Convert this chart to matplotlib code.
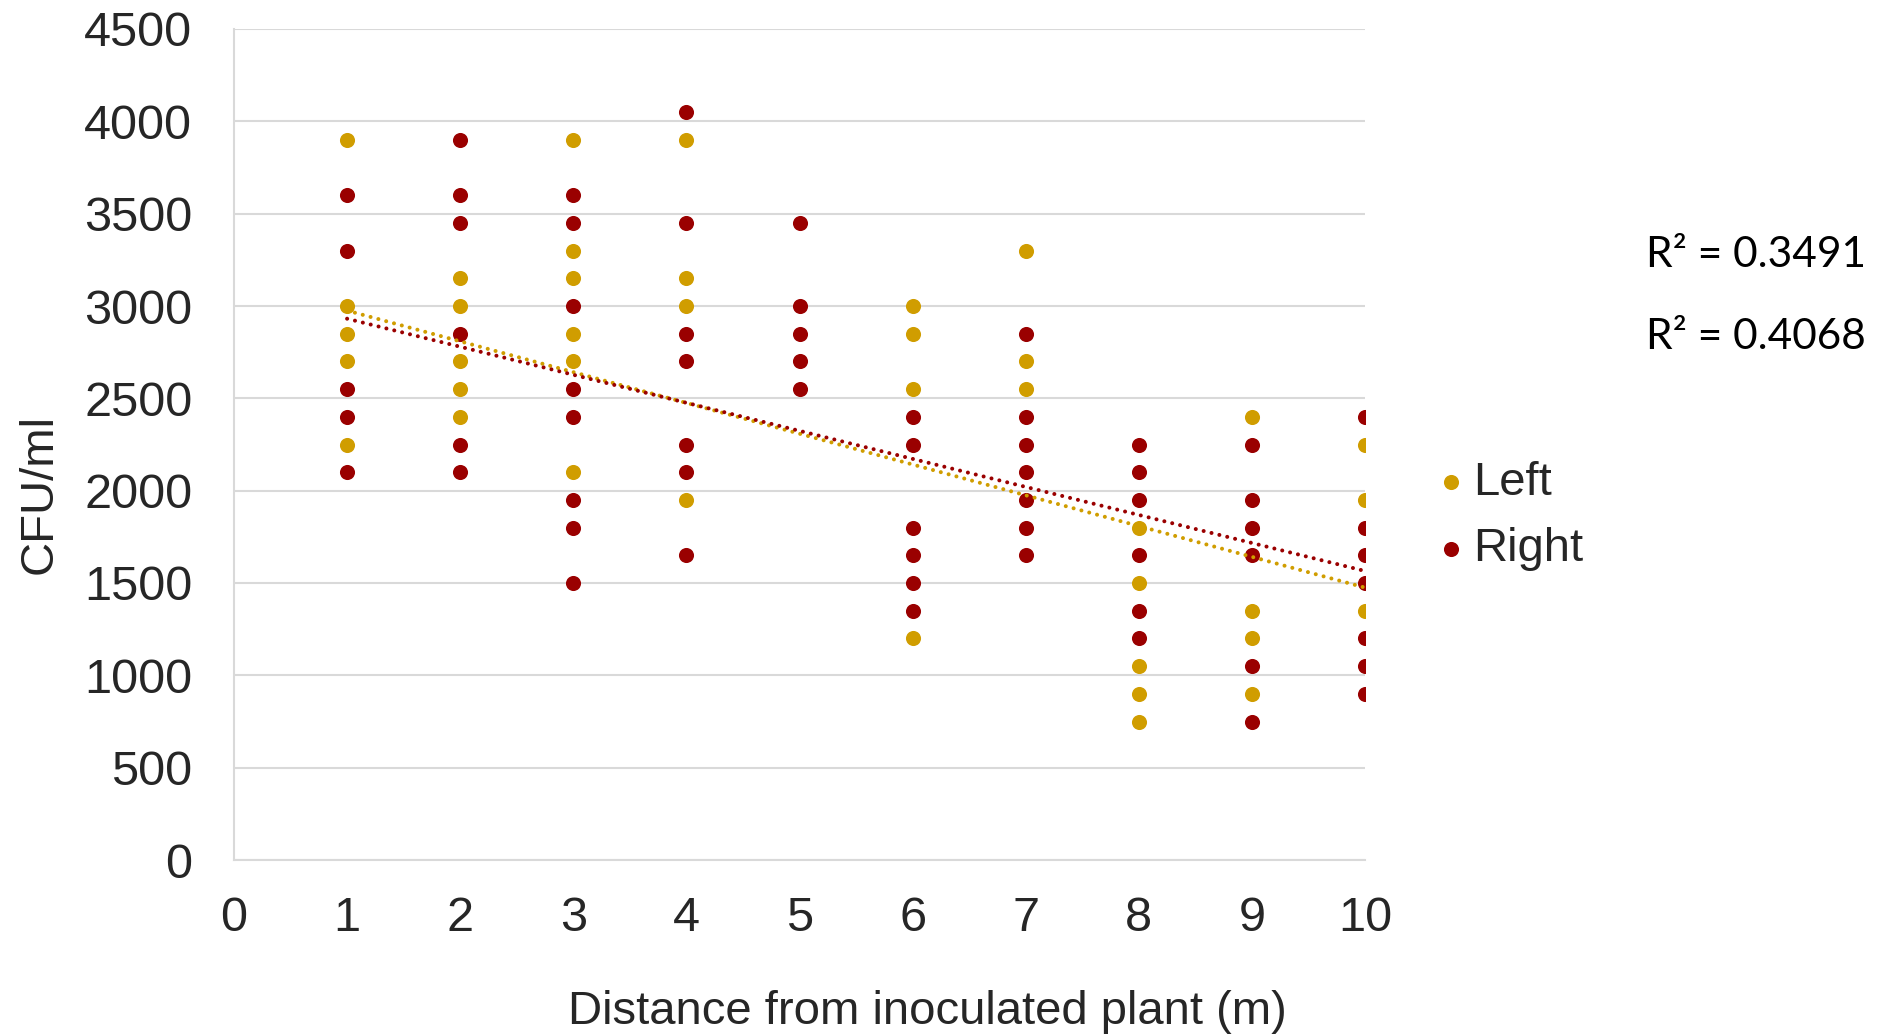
import numpy as np
import matplotlib
matplotlib.use("Agg")
import matplotlib.pyplot as plt

# CFU/ml counts at each distance (m)
left_x = [1]*5 + [2]*5 + [3]*6 + [4]*4 + [6]*4 + [7]*3 + [8]*5 + [9]*4 + [10]*3
left_y = [3900, 3000, 2850, 2700, 2250,
          3150, 3000, 2700, 2550, 2400,
          3900, 3300, 3150, 2850, 2700, 2100,
          3900, 3150, 3000, 1950,
          3000, 2850, 2550, 1200,
          3300, 2700, 2550,
          1800, 1500, 1050, 900, 750,
          2400, 1350, 1200, 900,
          2250, 1950, 1350]

right_x = [1]*5 + [2]*6 + [3]*8 + [4]*7 + [5]*5 + [6]*6 + [7]*7 + [8]*6 + [9]*6 + [10]*7
right_y = [3600, 3300, 2550, 2400, 2100,
           3900, 3600, 3450, 2850, 2250, 2100,
           3600, 3450, 3000, 2550, 2400, 1950, 1800, 1500,
           4050, 3450, 2850, 2700, 2250, 2100, 1650,
           3450, 3000, 2850, 2700, 2550,
           2400, 2250, 1800, 1650, 1500, 1350,
           2850, 2400, 2250, 2100, 1950, 1800, 1650,
           2250, 2100, 1950, 1650, 1350, 1200,
           2250, 1950, 1800, 1650, 1050, 750,
           2400, 1800, 1650, 1500, 1200, 1050, 900]

# linear trendlines as shown (slope, intercept) - some points overlap in the
# picture so a refit from the visible dots would not match
left_trend = (-166.7, 3142)
right_trend = (-151.8, 3083)
r2_labels = ["R² = 0.3491", "R² = 0.4068"]

LEFT_COL = "#D09D00"
RIGHT_COL = "#9A0000"
TXT = "#262626"
GRID = "#D9D9D9"

plt.rcParams["font.family"] = ["Liberation Sans", "DejaVu Sans"]

fig = plt.figure(figsize=(18.93, 10.35), dpi=100)
ax = fig.add_axes([234/1893, 1-860/1035, 1131/1893, 831/1035])

ax.scatter(left_x, left_y, s=118, color=LEFT_COL, linewidths=0, label="Left", zorder=3)
ax.scatter(right_x, right_y, s=118, color=RIGHT_COL, linewidths=0, label="Right", zorder=3)

for (k, b), col in [(left_trend, LEFT_COL), (right_trend, RIGHT_COL)]:
    tx = np.array([1, 10])
    ax.plot(tx, k*tx + b, color=col, lw=2.9, linestyle=(0, (0.01, 2.0)),
            dash_capstyle="round", zorder=4)

ax.set_xlim(0, 10)
ax.set_ylim(0, 4500)
ax.set_xticks(range(0, 11))
ax.set_yticks(range(0, 4501, 500))
ax.grid(axis="y", color=GRID, lw=1.5)
ax.set_axisbelow(True)
for s in ["top", "right"]:
    ax.spines[s].set_visible(False)
for s in ["left", "bottom"]:
    ax.spines[s].set_color(GRID)
    ax.spines[s].set_linewidth(1.5)
ax.tick_params(axis="both", length=0, labelsize=35, labelcolor=TXT)
ax.tick_params(axis="y", pad=30)
ax.tick_params(axis="x", pad=26)

ax.set_ylabel("CFU/ml", fontsize=34, color=TXT)
ax.yaxis.set_label_coords(-0.152, 0.44)
ax.set_xlabel("Distance from inoculated plant (m)", fontsize=34, color=TXT)
ax.xaxis.set_label_coords(0.613, -0.156)

for i, t in enumerate(r2_labels):
    fig.text(1646/1893, 1-(255 + 82*i)/1035, t, fontsize=30.5, family=["Lato", "DejaVu Sans"],
             color="black", ha="left", va="center")

fig.legend(loc="center left", bbox_to_anchor=(1418/1893, 1-516/1035), frameon=False,
           fontsize=34, handlelength=0.6, handletextpad=0.17, labelspacing=0.48,
           labelcolor=TXT, borderaxespad=0)

fig.savefig("out.png", dpi=100)
